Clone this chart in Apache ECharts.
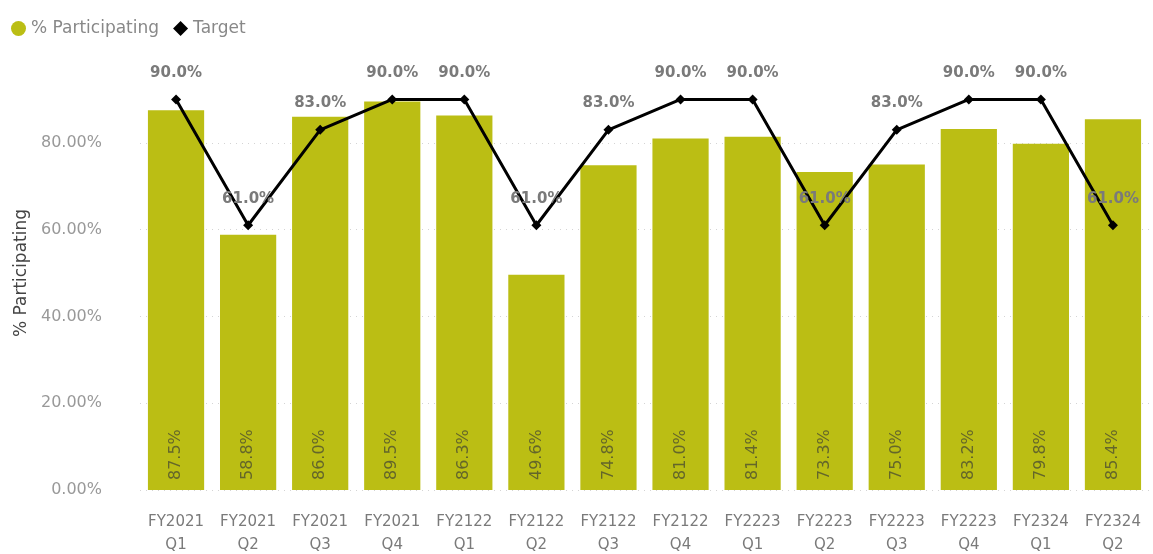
<!DOCTYPE html>
<html>
<head>
<meta charset="utf-8">
<script src="https://cdn.jsdelivr.net/npm/echarts@6/dist/echarts.min.js"></script>
<style>
  html, body { margin: 0; padding: 0; background: #fff; overflow: hidden; }
  #chart { width: 100vw; height: 100vh; }
</style>
</head>
<body>
<div id="chart"></div>
<script>
const categories = [
  'FY2021\nQ1', 'FY2021\nQ2', 'FY2021\nQ3', 'FY2021\nQ4',
  'FY2122\nQ1', 'FY2122\nQ2', 'FY2122\nQ3', 'FY2122\nQ4',
  'FY2223\nQ1', 'FY2223\nQ2', 'FY2223\nQ3', 'FY2223\nQ4',
  'FY2324\nQ1', 'FY2324\nQ2'
]
const participating = [87.5, 58.8, 86.0, 89.5, 86.3, 49.6, 74.8, 81.0, 81.4, 73.3, 75.0, 83.2, 79.8, 85.4]
const target = [90, 61, 83, 90, 90, 61, 83, 90, 90, 61, 83, 90, 90, 61]

const font = "'DejaVu Sans', sans-serif"
const barColor = '#bbbe14'

const chart = echarts.init(document.getElementById('chart'))

chart.setOption({
  animation: false,
  textStyle: { fontFamily: font },
  legend: {
    left: 6,
    top: 15,
    itemGap: 14,
    itemWidth: 15,
    itemHeight: 15,
    textStyle: { color: '#888', fontSize: 17, fontFamily: font },
    data: [
      { name: '% Participating', icon: 'circle', itemStyle: { color: barColor } },
      { name: 'Target', icon: 'diamond', itemStyle: { color: '#000' } }
    ]
  },
  grid: { left: 140, right: 4, top: 56, bottom: 64, containLabel: false, outerBoundsMode: 'none' },
  xAxis: {
    type: 'category',
    data: categories,
    axisLine: { show: false },
    axisTick: { show: false },
    axisLabel: {
      color: '#7a7a7a',
      fontSize: 15,
      lineHeight: 23,
      margin: 21,
      interval: 0,
      fontFamily: font
    }
  },
  yAxis: {
    type: 'value',
    min: 0,
    max: 100,
    interval: 20,
    name: '% Participating',
    nameLocation: 'middle',
    nameGap: 104,
    nameTextStyle: { color: '#444', fontSize: 17, fontFamily: font },
    axisLabel: {
      color: '#999',
      fontSize: 16,
      margin: 38,
      showMaxLabel: false,
      formatter: v => v.toFixed(2) + '%',
      fontFamily: font
    },
    splitLine: {
      lineStyle: {
        type: [1, 5],
        color: ['#d4d4d4', '#d4d4d4', '#d4d4d4', '#d4d4d4', '#d4d4d4', 'rgba(0,0,0,0)']
      }
    }
  },
  series: [
    {
      name: '% Participating',
      type: 'bar',
      data: participating,
      barCategoryGap: '22%',
      itemStyle: { color: barColor },
      label: {
        show: true,
        position: 'insideBottom',
        rotate: 90,
        align: 'left',
        verticalAlign: 'middle',
        distance: 10,
        color: '#64662a',
        fontSize: 16,
        fontFamily: font,
        formatter: p => p.value.toFixed(1) + '%'
      }
    },
    {
      name: 'Target',
      type: 'line',
      data: target,
      symbol: 'diamond',
      symbolSize: 10,
      lineStyle: { color: '#000', width: 3 },
      itemStyle: { color: '#000' },
      label: {
        show: true,
        position: 'top',
        distance: 14,
        color: '#7a7a7a',
        fontSize: 15,
        fontWeight: 'bold',
        fontFamily: font,
        formatter: p => p.value.toFixed(1) + '%'
      }
    }
  ]
})
</script>
</body>
</html>
